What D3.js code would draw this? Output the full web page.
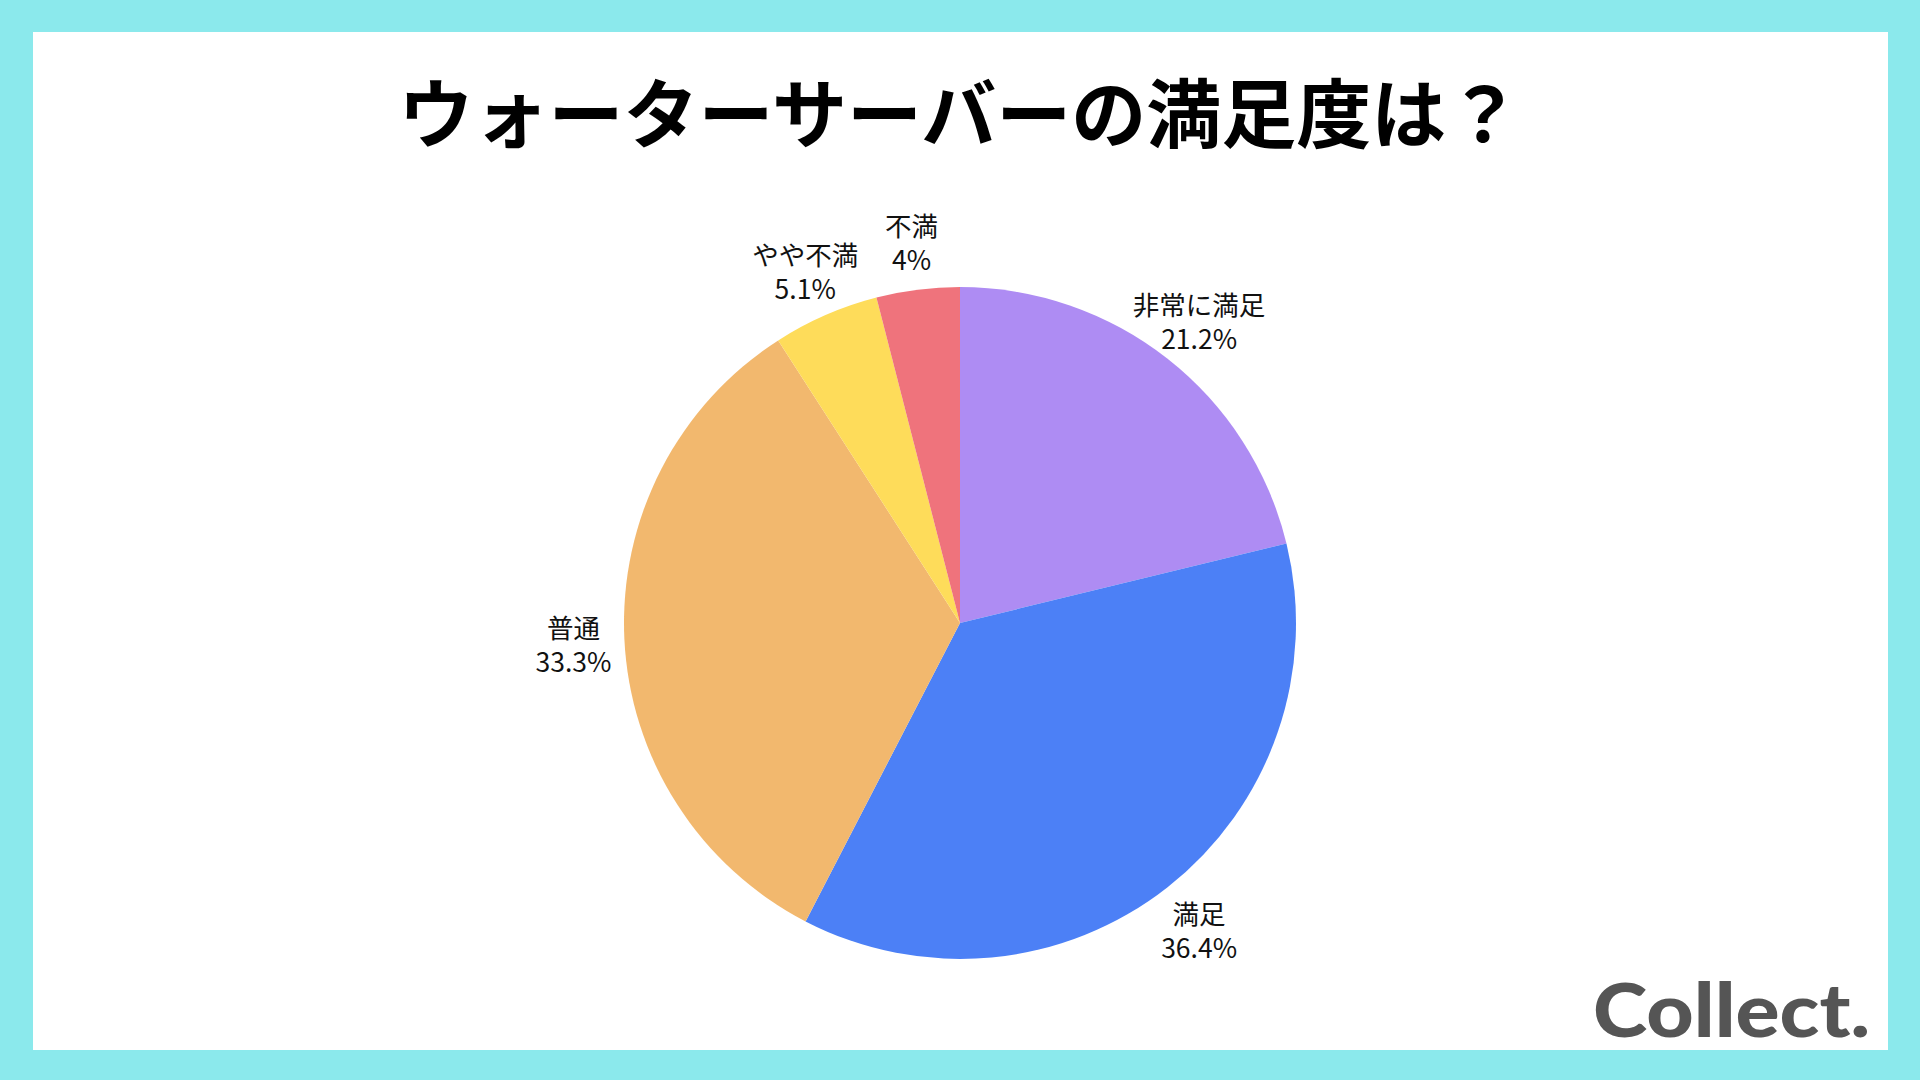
<!DOCTYPE html>
<html>
<head>
<meta charset="utf-8">
<script src="https://cdn.jsdelivr.net/npm/d3@7"></script>
<style>
  body { margin: 0; background: #fff; }
  svg { display: block; }
</style>
</head>
<body>
<div id="chart"></div>
<script>
// chart data
var categories = ["非常に満足", "満足", "普通", "やや不満", "不満"];
var values = [21.2, 36.4, 33.3, 5.1, 4];
var valueLabels = ["21.2%", "36.4%", "33.3%", "5.1%", "4%"];
var colors = ["#ae8cf3", "#4c80f6", "#f2b86e", "#fedc5a", "#ef737c"];
var title = "ウォーターサーバーの満足度は？";

var width = 1920, height = 1080;
var radius = 336, labelRadius = 387;
var cx = 960, cy = 623;

var svg = d3.select("#chart").append("svg")
  .attr("width", width)
  .attr("height", height);

// cyan frame and white card
svg.append("rect")
  .attr("width", width).attr("height", height)
  .attr("fill", "#8be9ec");
svg.append("rect")
  .attr("x", 33).attr("y", 32)
  .attr("width", 1855).attr("height", 1018)
  .attr("fill", "#ffffff");

svg.append("text")
  .attr("x", 960).attr("y", 109)
  .attr("text-anchor", "middle")
  .attr("dominant-baseline", "central")
  .style("font-family", "'Noto Sans CJK JP', sans-serif")
  .style("font-weight", 700)
  .style("font-size", "75px")
  .attr("fill", "#000")
  .text(title);

var pie = d3.pie().sort(null).value(function (d) { return d; });
var arcs = pie(values);
var arc = d3.arc().innerRadius(0).outerRadius(radius);
var labelArc = d3.arc().innerRadius(labelRadius).outerRadius(labelRadius);

var g = svg.append("g")
  .attr("transform", "translate(" + cx + "," + cy + ")");

g.selectAll("path.slice")
  .data(arcs)
  .enter().append("path")
  .attr("class", "slice")
  .attr("d", arc)
  .attr("fill", function (d, i) { return colors[i]; });

var labels = g.selectAll("text.label")
  .data(arcs)
  .enter().append("text")
  .attr("class", "label")
  .attr("text-anchor", "middle")
  .style("font-family", "'Noto Sans CJK JP', sans-serif")
  .style("font-size", "26.5px")
  .attr("fill", "#111")
  .attr("transform", function (d) {
    var c = labelArc.centroid(d);
    return "translate(" + c[0] + "," + (c[1] + 2) + ")";
  });

labels.append("tspan")
  .attr("x", 0).attr("y", -17)
  .attr("dominant-baseline", "central")
  .text(function (d, i) { return categories[i]; });
labels.append("tspan")
  .attr("x", 0).attr("y", 17)
  .attr("dominant-baseline", "central")
  .text(function (d, i) { return valueLabels[i]; });

// logo
svg.append("text")
  .attr("x", 1593).attr("y", 1037)
  .attr("textLength", 277)
  .attr("lengthAdjust", "spacingAndGlyphs")
  .style("font-family", "Lato, sans-serif")
  .style("font-weight", 900)
  .style("font-size", "74px")
  .attr("fill", "#555555")
  .text("Collect.");
</script>
</body>
</html>
